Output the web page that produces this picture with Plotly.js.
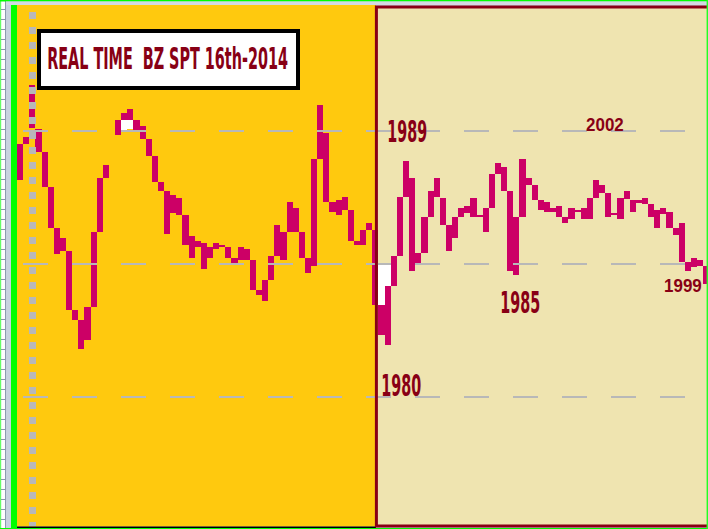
<!DOCTYPE html>
<html><head><meta charset="utf-8">
<script src="https://cdn.plot.ly/plotly-3.0.1.min.js"></script>
<style>html,body{margin:0;padding:0;background:#fff;overflow:hidden}</style>
</head><body><div id="chart" style="width:708px;height:529px"></div>
<script>
// ---- data (price units) ----
const BAR_HIGH = [
  98.86, 98.93, 99.45, 99.01, 98.78, 98.43, 98.02, 97.92, 97.79, 97.20,
  97.10, 97.23, 97.98, 98.52, 98.65, null, 99.10, 99.17, 99.21, 99.10,
  99.04, 98.91, 98.74, 98.48, 98.39, 98.35, 98.32, 98.15, 97.94, 97.89,
  97.87, 97.83, 97.87, 97.85, 97.83, 97.72, 97.83, 97.81, 97.70, 97.40,
  97.50, 97.74, 98.05, 97.98, 98.28, 98.22, 97.98, 97.72, 98.71, 99.25,
  98.97, 98.28, 98.30, 98.33, 98.20, 97.89, 98.00, 98.07, 98.00, 97.25,
  97.44, 97.74, 98.33, 98.69, 98.52, 97.77, 98.13, 98.39, 98.52, 98.32,
  98.05, 98.13, 98.22, 98.24, 98.32, 98.15, 98.22, 98.56, 98.67, 98.63,
  98.39, 98.13, 98.71, 98.52, 98.45, 98.30, 98.28, 98.22, 98.24, 98.13,
  98.22, 98.20, 98.22, 98.32, 98.50, 98.45, 98.37, 98.17, 98.32, 98.39,
  98.30, 98.30, 98.32, 98.26, 98.20, 98.22, 98.18, 98.02, 98.07, 97.68,
  97.72, 97.70, 97.64
];
const BAR_LOW = [
  98.50, 98.86, 99.02, 98.78, 98.43, 98.02, 97.76, 97.79, 97.20, 97.10,
  96.81, 96.90, 97.23, 97.98, 98.52, null, 98.95, 99.10, 99.10, 99.00,
  98.91, 98.74, 98.48, 98.39, 97.96, 98.17, 98.15, 97.85, 97.72, 97.83,
  97.61, 97.72, 97.81, 97.83, 97.72, 97.66, 97.70, 97.70, 97.40, 97.35,
  97.29, 97.50, 97.74, 97.70, 97.98, 97.98, 97.72, 97.57, 97.64, 98.71,
  98.28, 98.18, 98.15, 98.20, 97.89, 97.85, 97.85, 98.00, 97.25, 96.95,
  96.85, 97.44, 97.74, 98.33, 97.59, 97.66, 97.77, 98.13, 98.33, 98.05,
  97.79, 97.92, 98.13, 98.17, 98.13, 98.13, 97.98, 98.22, 98.56, 98.39,
  97.59, 97.55, 98.13, 98.45, 98.30, 98.20, 98.18, 98.18, 98.13, 98.07,
  98.11, 98.18, 98.11, 98.11, 98.32, 98.37, 98.13, 98.15, 98.11, 98.31,
  98.18, 98.27, 98.26, 98.13, 98.02, 98.16, 98.02, 97.95, 97.68, 97.59,
  97.63, 97.64, 97.46
];
const HOLLOW_INDEX = [17, 18, 59, 60];
const HOLLOW_HIGH  = [99.10, 99.10, 97.65, 97.65];
const HOLLOW_LOW   = [98.99, 99.01, 97.25, 97.44];
const GRID_LEVELS  = [98.99, 97.66, 96.33];
const TITLE_TEXT   = 'REAL TIME\u00a0 BZ SPT 16th-2014';
const MARK_LABELS  = ['1989', '1985', '1980', '2002', '1999'];

// ---- layout constants ----
const W = 708, H = 529;
const BAR_PX = 6.127, FIRST_BAR_PX = 17, PX_PER_UNIT = 100, Y_TOP = 100.30;
const px = x => x / W, py = y => 1 - y / H;

const idx = BAR_HIGH.map((_, i) => i);
const heights = BAR_HIGH.map((h, i) => h == null ? null : +(h - BAR_LOW[i]).toFixed(2));
const hollowH = HOLLOW_HIGH.map((h, i) => +(h - HOLLOW_LOW[i]).toFixed(2));

const traces = [
  {type: 'bar', x: idx, y: heights, base: BAR_LOW, width: 1,
   marker: {color: '#CC0066', line: {width: 0}}, hoverinfo: 'skip'},
  {type: 'bar', x: HOLLOW_INDEX, y: hollowH, base: HOLLOW_LOW, width: 1,
   marker: {color: '#FFFFFF', line: {width: 0}}, hoverinfo: 'skip'}
];

const rectP = (x0, y0, x1, y1, fill, layer) => ({type: 'rect', xref: 'paper', yref: 'paper',
  x0: px(x0), x1: px(x1), y0: py(y1), y1: py(y0), fillcolor: fill, line: {width: 0}, layer: layer || 'below'});

const shapes = [];
// frame outside the chart
shapes.push(rectP(0, 0, 5, H, '#FFFFFF'));
shapes.push(rectP(0, 0, 1.2, H, '#66FF66'));
for (let y = 9.5; y < H; y += 10) {
  shapes.push({type: 'line', xref: 'paper', yref: 'paper', x0: px(1), x1: px(5), y0: py(y), y1: py(y),
    line: {color: '#8A98A8', width: 1}, layer: 'below'});
}
shapes.push(rectP(5, 0, 6, H, '#8C9CB0'));
shapes.push(rectP(11, 5, 17, H, '#00FF00'));
shapes.push(rectP(0, 0, W, 1.5, '#00FF00'));
shapes.push(rectP(6, 1.5, W, 5, '#D3DAE3'));
// session backgrounds
shapes.push(rectP(17, 5, 376, 526.5, '#FFC90E'));
shapes.push(rectP(376, 7, W + 5, 526.5, '#EFE4B0'));
shapes.push(rectP(17, 526.5, 376, 528, '#000000'));
shapes.push(rectP(0, 528, W, H, '#00FF00'));
// dashed grid (drawn over the bars)
GRID_LEVELS.forEach(v => shapes.push({type: 'line', xref: 'paper', yref: 'y', x0: px(23), x1: px(W), y0: v, y1: v,
  line: {color: '#B8B8B8', width: 2, dash: '25px,24px'}, layer: 'above'}));
// dotted vertical marker
shapes.push({type: 'line', xref: 'paper', yref: 'paper', x0: px(32.5), x1: px(32.5), y0: py(12), y1: py(526),
  line: {color: '#B8B8B8', width: 7, dash: '7px,8px'}, layer: 'above'});
// session border
shapes.push({type: 'rect', xref: 'paper', yref: 'paper', x0: px(376.4), x1: px(W + 8), y0: py(526), y1: py(7),
  line: {color: '#880015', width: 3}, fillcolor: 'rgba(0,0,0,0)', layer: 'above'});
shapes.push(rectP(706.6, 0, W, H, '#22FF22', 'above'));
// title box
shapes.push({type: 'rect', xref: 'paper', yref: 'paper', x0: px(39), x1: px(298), y0: py(88), y1: py(31),
  line: {color: '#000000', width: 4}, fillcolor: '#FFFFFF', layer: 'above'});

const narrow = 'Liberation Sans Narrow, DejaVu Sans Condensed, Arial Narrow, sans-serif';
const plain = 'Liberation Sans, Arial, sans-serif';
const TXT = '#880015';
const ann = (text, x, y, size, family) => ({text, xref: 'paper', yref: 'paper', x: px(x), y: py(y),
  xanchor: 'center', yanchor: 'middle', showarrow: false,
  font: {family, size, color: TXT, weight: 'bold'}});

const annotations = [
  ann(TITLE_TEXT, 167.5, 59, 20, narrow),
  ann(MARK_LABELS[0], 407.5, 131.5, 21, narrow),
  ann(MARK_LABELS[1], 520, 302.5, 21, narrow),
  ann(MARK_LABELS[2], 401, 385.5, 21, narrow),
  ann(MARK_LABELS[3], 605, 124, 17, plain),
  ann(MARK_LABELS[4], 683, 285, 17, plain)
];
// stretch of the condensed lettering [x, y]
const STRETCH = [[0.8, 1.48], [0.76, 1.42], [0.76, 1.42], [0.76, 1.42], [1, 1.12], [1, 1.12]];

const layout = {
  width: W, height: H, margin: {l: 0, r: 0, t: 0, b: 0, pad: 0},
  paper_bgcolor: '#C9D3E0', plot_bgcolor: '#C9D3E0',
  showlegend: false, barmode: 'overlay', bargap: 0,
  xaxis: {range: [-0.5 - FIRST_BAR_PX / BAR_PX, -0.5 + (W - FIRST_BAR_PX) / BAR_PX], visible: false, fixedrange: true},
  yaxis: {range: [Y_TOP - H / PX_PER_UNIT, Y_TOP], visible: false, fixedrange: true},
  shapes, annotations
};

Plotly.newPlot('chart', traces, layout, {staticPlot: true, displayModeBar: false}).then(gd => {
  gd.querySelectorAll('.annotation').forEach(g => {
    const i = +g.getAttribute('data-index');
    const t = g.querySelector('text');
    const s = STRETCH[i];
    if (t && s) {
      t.style.transformBox = 'fill-box';
      t.style.transformOrigin = '50% 50%';
      t.style.transform = 'scale(' + s[0] + ',' + s[1] + ')';
    }
  });
});
</script>
</body></html>
